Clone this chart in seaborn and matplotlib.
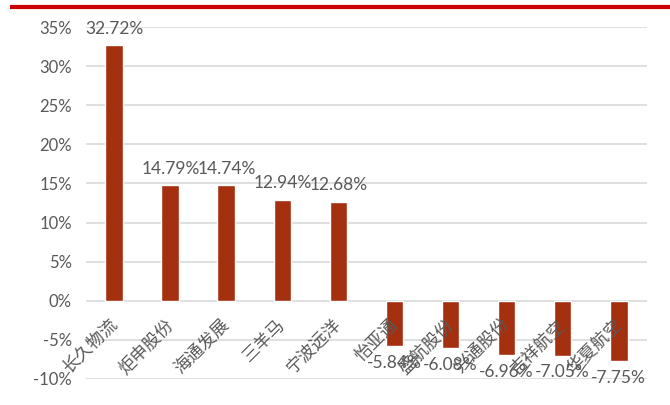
import matplotlib
matplotlib.use("Agg")
import matplotlib.pyplot as plt
import matplotlib.transforms as mtransforms
import seaborn as sns
import pandas as pd

companies = ["长久物流", "炬申股份", "海通发展", "三羊马", "宁波远洋",
             "怡亚通", "盛航股份", "兴通股份", "吉祥航空", "华夏航空"]
changes = [32.72, 14.79, 14.74, 12.94, 12.68, -5.84, -6.08, -6.96, -7.05, -7.75]
yticks = [-10, -5, 0, 5, 10, 15, 20, 25, 30, 35]

sns.set_theme(style="white")
plt.rcParams["font.family"] = ["Lato", "Noto Sans CJK SC", "DejaVu Sans"]

df = pd.DataFrame({"company": companies, "change": changes})

fig = plt.figure(figsize=(6.7, 4.05), dpi=100)
ax = fig.add_axes([0.129, 0.0642, 0.836, 0.8691])

sns.barplot(data=df, x="company", y="change", color="#A5300F", saturation=1,
            width=0.32, ax=ax, zorder=3)

ax.set_ylim(-10, 35)
ax.set_xlim(-0.5, len(companies) - 0.5)
ax.set_yticks(yticks)
ax.set_yticklabels([f"{v}%" for v in yticks], color="#595959", fontsize=12)
ax.tick_params(axis="y", length=0, pad=10.5)
ax.grid(axis="y", color="#D9D9D9", linewidth=1.2, zorder=0)
ax.set_axisbelow(True)
for s in ax.spines.values():
    s.set_visible(False)
ax.set_xlabel("")
ax.set_ylabel("")
ax.set_xticks([])

for cont in ax.containers:
    ax.bar_label(cont, labels=[f"{v:.2f}%" for v in changes], padding=6,
                 color="#595959", fontsize=12.5, zorder=5)

offset = mtransforms.ScaledTranslation(-4 / 72, -11 / 72, fig.dpi_scale_trans)
for i, name in enumerate(companies):
    ax.text(i, 0, name, transform=ax.transData + offset, rotation=45,
            rotation_mode="anchor", ha="right", va="top", fontsize=12.5,
            color="#595959", zorder=6)

fig.add_artist(plt.Line2D([0.015, 1.0], [1 - 7 / 405, 1 - 7 / 405], color="#CC0000",
                          linewidth=3.0, solid_capstyle="butt",
                          transform=fig.transFigure))

fig.savefig("out.png", dpi=100)
